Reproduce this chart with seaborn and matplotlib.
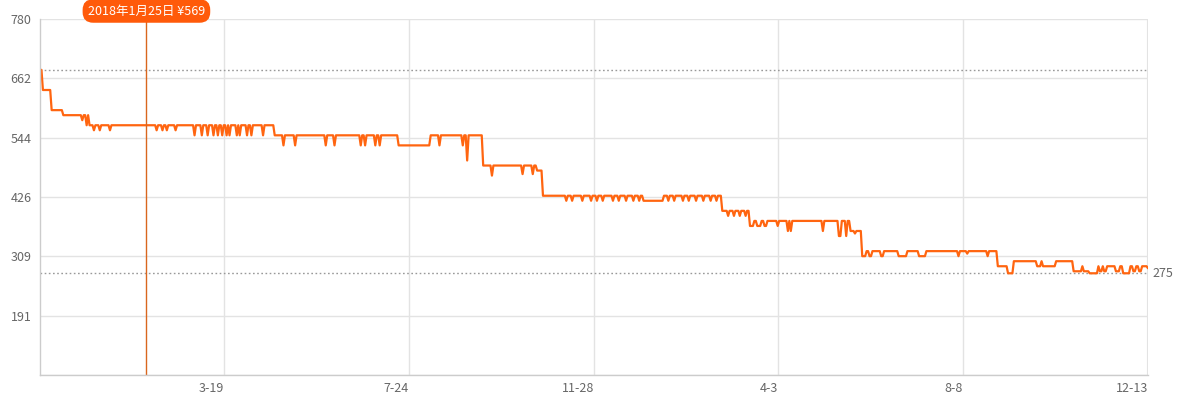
import pandas as pd
import numpy as np
import matplotlib
matplotlib.use("Agg")
import matplotlib.pyplot as plt
import matplotlib.transforms as mtransforms
import seaborn as sns

# price history: change points as (days since start, price)
start_date = "2017-11-13"
end_date = "2019-12-13"
change_day = [
    0, 2, 8, 16, 29, 30, 32, 33, 34, 37, 38, 41, 42, 48, 49,
    80, 81, 84, 85, 87, 88, 93, 94,
    106, 107, 111, 112, 115, 116, 119, 120, 122, 123, 125, 126, 128, 129,
    130, 131, 135, 136, 137, 138, 142, 143, 145, 146, 153, 154,
    161, 167, 168, 175, 176, 196, 197, 202, 203, 220, 221, 223, 224,
    230, 231, 233, 234, 246, 268, 274, 275, 290, 291, 293, 294,
    304, 310, 311, 331, 332, 338, 339, 341, 345,
    361, 362, 365, 366, 372, 373, 378, 379, 382, 383, 386, 387, 393, 394,
    397, 398, 402, 403, 407, 408, 411, 412, 414,
    428, 431, 432, 435, 436, 441, 442, 445, 446, 450, 451, 455, 456,
    460, 461, 464, 465,
    468, 472, 473, 476, 477, 480, 481, 484, 485,
    487, 490, 492, 495, 497, 499, 506, 507, 513, 514, 515, 516,
    537, 538, 548, 550, 553, 554, 556, 559, 560,
    564, 567, 569, 571, 577, 579, 589, 595, 603, 608,
    630, 631, 636, 637, 650, 651,
    657, 664, 668, 684, 687, 688, 697, 709, 715, 716, 720,
    726, 727, 729, 730, 732, 738, 741, 743, 748, 750, 752, 754, 756, 760,
]
change_price = [
    679, 639, 599, 589, 579, 589, 569, 589, 569, 559, 569, 559, 569, 559, 569,
    559, 569, 559, 569, 559, 569, 559, 569,
    549, 569, 549, 569, 549, 569, 549, 569, 549, 569, 549, 569, 549, 569,
    549, 569, 549, 569, 549, 569, 549, 569, 549, 569, 549, 569,
    549, 529, 549, 529, 549, 529, 549, 529, 549, 529, 549, 529, 549,
    529, 549, 529, 549, 529, 549, 529, 549, 529, 549, 499, 549,
    489, 469, 489, 472, 489, 472, 489, 479, 429,
    419, 429, 419, 429, 419, 429, 419, 429, 419, 429, 419, 429, 419, 429,
    419, 429, 419, 429, 419, 429, 419, 429, 419,
    429, 419, 429, 419, 429, 419, 429, 419, 429, 419, 429, 419, 429,
    419, 429, 419, 429,
    399, 389, 399, 389, 399, 389, 399, 389, 399,
    369, 379, 369, 379, 369, 379, 369, 379, 359, 379, 359, 379,
    359, 379, 349, 379, 349, 379, 359, 354, 359,
    309, 319, 309, 319, 309, 319, 309, 319, 309, 319,
    309, 319, 314, 319, 309, 319,
    289, 275, 299, 289, 299, 289, 299, 279, 289, 279, 275,
    289, 279, 289, 279, 289, 279, 289, 275, 289, 279, 289, 279, 289, 285,
]

y_ticks = [73, 191, 309, 426, 544, 662, 780]
y_labels = ["", "191", "309", "426", "544", "662", "780"]
x_ticks = ["2018-03-19", "2018-07-24", "2018-11-28", "2019-04-03", "2019-08-08", "2019-12-13"]
x_labels = ["3-19", "7-24", "11-28", "4-3", "8-8", "12-13"]

max_price = 679
min_price = 275
marker_date = "2018-01-25"
marker_label = "2018年1月25日 ¥569"

start = pd.Timestamp(start_date)
points = pd.Series(change_price, index=start + pd.to_timedelta(change_day, unit="D"))
days = pd.date_range(start, end_date, freq="D")
df = pd.DataFrame({"date": days, "price": points.reindex(days).ffill().values})

sns.set_style("white")
plt.rcParams["font.family"] = ["Noto Sans CJK SC", "DejaVu Sans"]

line_color = "#ff6510"
grid_color = "#e3e3e3"
text_color = "#666666"

fig = plt.figure(figsize=(11.77, 4.03), dpi=100)
ax = fig.add_axes([40 / 1177, 1 - 375 / 403, 1108 / 1177, 356 / 403])

ax.set_xlim(start, pd.Timestamp(end_date))
ax.set_ylim(y_ticks[0], y_ticks[-1])

ax.set_yticks(y_ticks)
ax.set_yticklabels(y_labels)
ax.set_xticks(pd.to_datetime(x_ticks))
ax.set_xticklabels(x_labels, ha="right")

ax.grid(True, color=grid_color, linewidth=1)
ax.set_axisbelow(True)
for side in ["top", "right"]:
    ax.spines[side].set_visible(False)
for side in ["left", "bottom"]:
    ax.spines[side].set_color("#cccccc")
    ax.spines[side].set_linewidth(1)
ax.tick_params(axis="both", length=0, labelsize=9, colors=text_color)
ax.tick_params(axis="x", pad=5)
ax.tick_params(axis="y", pad=6)

# right edge grid line (last x tick sits on the border)
ax.axvline(pd.Timestamp(end_date), color=grid_color, linewidth=1.5, zorder=0.5)

# max / min reference lines
ax.axhline(max_price, color="#999999", linestyle=(0, (1.2, 1.8)), linewidth=1)
ax.axhline(min_price, color="#999999", linestyle=(0, (1.2, 1.8)), linewidth=1)

sns.lineplot(data=df, x="date", y="price", ax=ax, color=line_color, linewidth=1.6)
ax.set_xlabel("")
ax.set_ylabel("")

ax.text(1.004, min_price, str(min_price), transform=ax.get_yaxis_transform(),
        ha="left", va="center", fontsize=9, color=text_color)

# tooltip marker
md = pd.Timestamp(marker_date)
ax.axvline(md, color="#d9661e", linewidth=1)
trans = mtransforms.blended_transform_factory(ax.transData, fig.transFigure)
ax.text(md, 1 - 11 / 403, marker_label, transform=trans, ha="center", va="center",
        fontsize=9, color="white", clip_on=False,
        bbox=dict(boxstyle="round,pad=0.42,rounding_size=0.85", fc="#ff5a0a", ec="none"))

fig.savefig("out.png", dpi=100)
